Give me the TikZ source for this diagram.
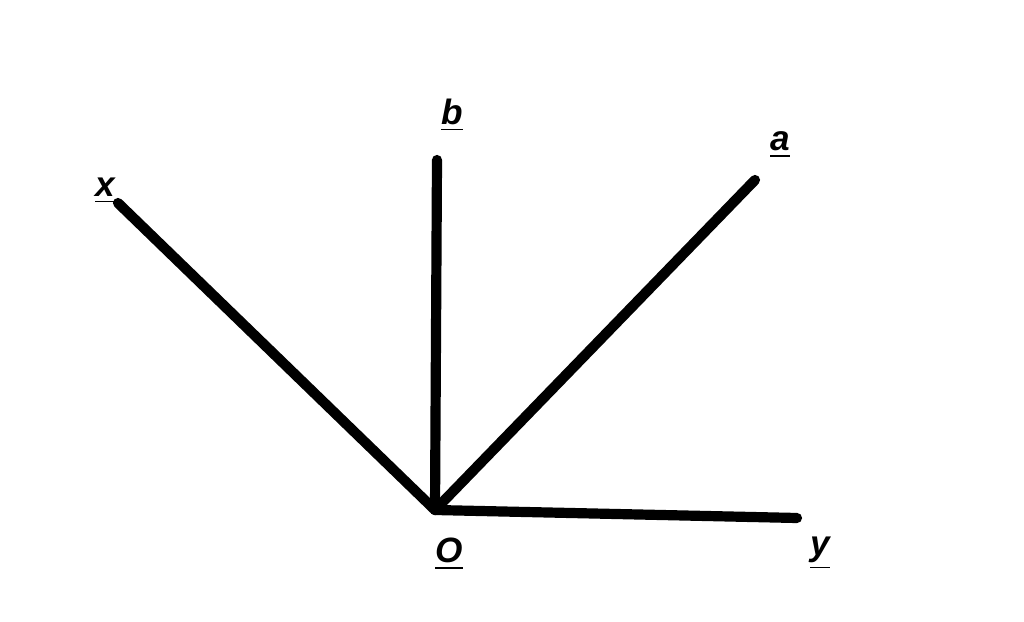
\documentclass[tikz,border=0pt]{standalone}
\usepackage{fontspec}
\setmainfont{Liberation Sans}
\usetikzlibrary{positioning}
\tikzset{ray/.style={line width=2.9pt,line cap=round},
  lbl/.style={font=\bfseries\itshape}}
\newcommand{\ulbl}[1]{\underline{#1}}
\begin{document}
\begin{tikzpicture}[x=0.01cm,y=0.01cm]
        \useasboundingbox (0,0) rectangle (1024,621);
        \coordinate (O) at (435,111);
        \coordinate (X) at (118,418);
        \coordinate (B) at (437,461);
        \coordinate (A) at (755,441);
        \coordinate (Y) at (797,103);
        \node[lbl] (lx) at (105,430) {\ulbl{x}};
        \node[lbl] (lb) at (452,506) {\ulbl{b}};
        \node[lbl] (la) at (780,476) {\ulbl{a}};
        \node[lbl] (lo) at (449,67) {\ulbl{O}};
        \node[lbl] (ly) at (820,68) {\ulbl{y}};
        \draw[ray] (O)--(X);
        \draw[ray] (O)--(B);
        \draw[ray] (O)--(A);
        \draw[ray] (O)--(Y);
      \end{tikzpicture}
\end{document}
